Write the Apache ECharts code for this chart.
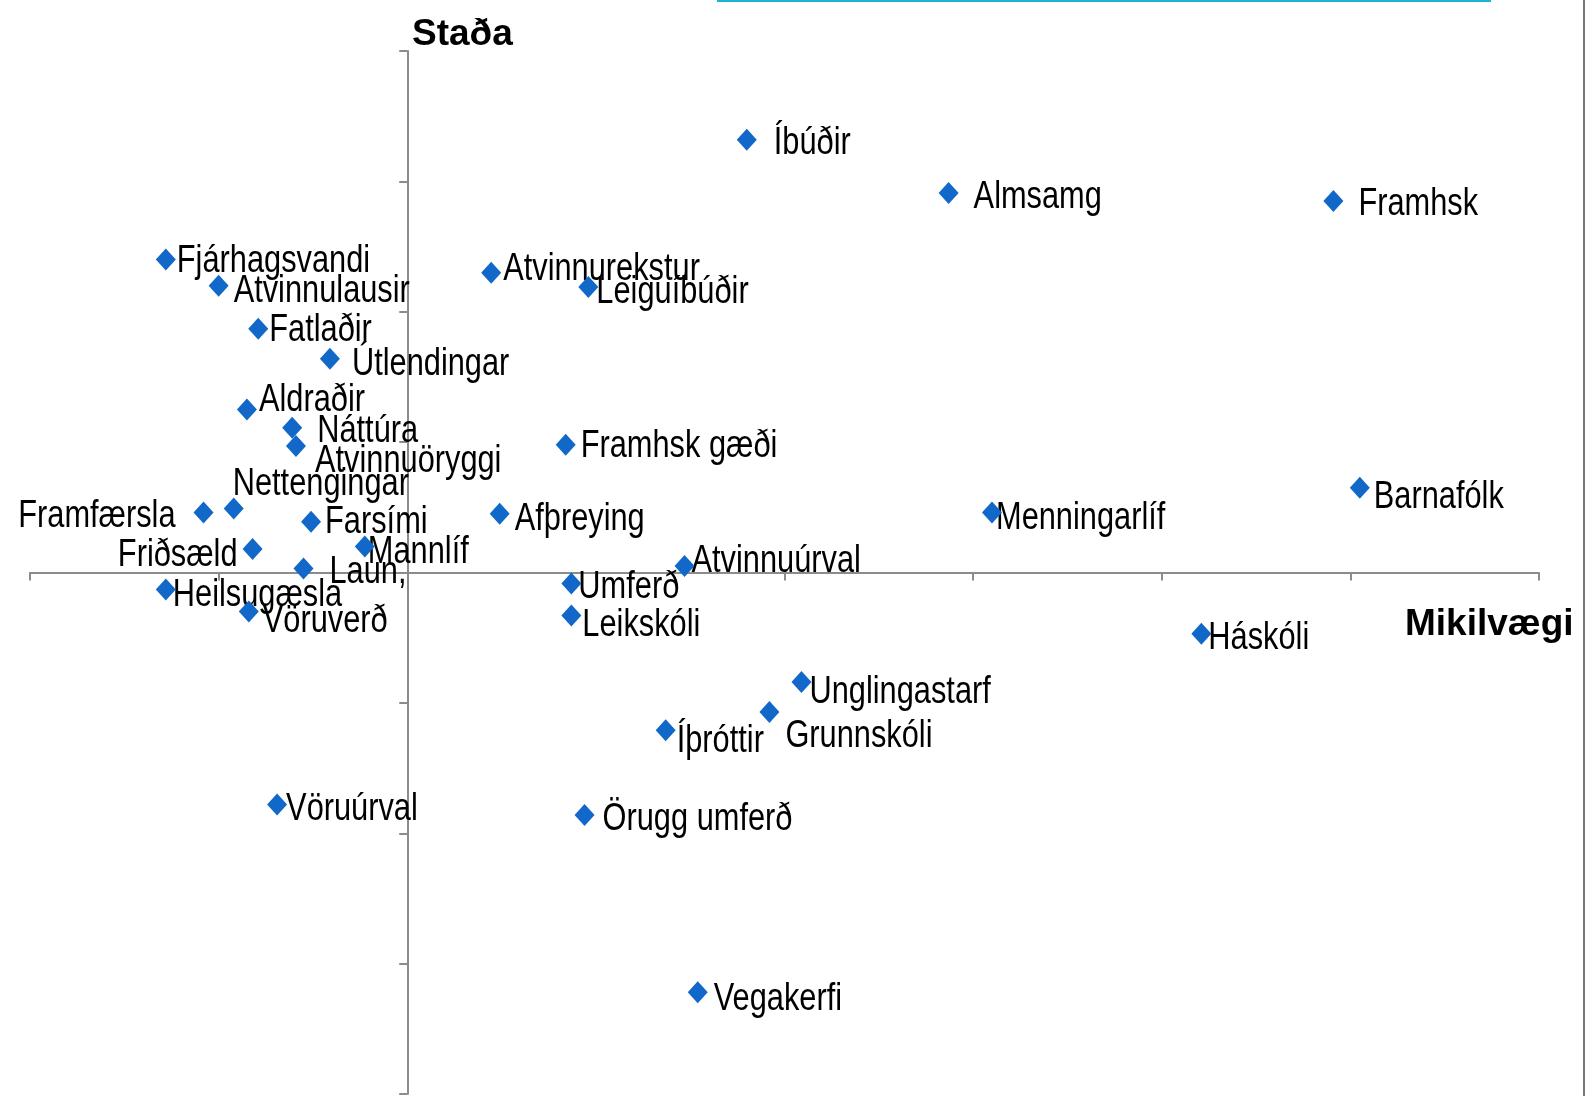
<!DOCTYPE html>
<html>
<head>
<meta charset="utf-8">
<script src="https://cdn.jsdelivr.net/npm/echarts@6/dist/echarts.min.js"></script>
<style>
  html, body { margin: 0; padding: 0; background: #fff; }
  #chart { width: 1585px; height: 1096px; }
</style>
</head>
<body>
<div id="chart"></div>
<script>
// gögnin: nafn, mikilvægi (x) og staða (y)
var names = ['Íbúðir', 'Almsamg', 'Framhsk', 'Fjárhagsvandi', 'Atvinnulausir', 'Atvinnurekstur',
  'Leiguíbúðir', 'Fatlaðir', 'Útlendingar', 'Aldraðir', 'Náttúra', 'Atvinnuöryggi',
  'Framhsk gæði', 'Nettengingar', 'Framfærsla', 'Farsími', 'Afþreying', 'Menningarlíf',
  'Barnafólk', 'Friðsæld', 'Mannlíf', 'Laun,', 'Atvinnuúrval', 'Umferð', 'Heilsugæsla',
  'Vöruverð', 'Leikskóli', 'Háskóli', 'Unglingastarf', 'Grunnskóli', 'Íþróttir',
  'Vöruúrval', 'Örugg umferð', 'Vegakerfi'];
var mikilvaegi = [1.80, 2.87, 4.91, -1.28, -1.00, 0.445,
  0.96, -0.79, -0.41, -0.85, -0.61, -0.59,
  0.84, -0.92, -1.08, -0.51, 0.49, 3.10,
  5.05, -0.82, -0.225, -0.55, 1.47, 0.87, -1.28,
  -0.84, 0.87, 4.21, 2.09, 1.92, 1.37,
  -0.69, 0.94, 1.54];
var stada = [3.32, 2.91, 2.85, 2.40, 2.20, 2.30,
  2.19, 1.87, 1.64, 1.25, 1.11, 0.97,
  0.98, 0.49, 0.46, 0.39, 0.45, 0.46,
  0.65, 0.18, 0.20, 0.03, 0.05, -0.085, -0.13,
  -0.30, -0.33, -0.47, -0.84, -1.07, -1.21,
  -1.78, -1.86, -3.22];

// hvar merkin lenda: [hlið, bil frá miðju tákns, lóðrétt hliðrun]
var labelLayout = {
  'Íbúðir': ['right', 27, 0], 'Almsamg': ['right', 25, 0], 'Framhsk': ['right', 25, 0],
  'Fjárhagsvandi': ['right', 11, -2], 'Atvinnulausir': ['right', 15, 2], 'Atvinnurekstur': ['right', 12, -7],
  'Leiguíbúðir': ['right', 8, 2], 'Fatlaðir': ['right', 11, -2], 'Útlendingar': ['right', 22, 2],
  'Aldraðir': ['right', 12, -13], 'Náttúra': ['right', 25, 0], 'Atvinnuöryggi': ['right', 19, 11],
  'Framhsk gæði': ['right', 15, -2], 'Nettengingar': ['right', -1, -28], 'Framfærsla': ['left', 28, 0],
  'Farsími': ['right', 14, -3], 'Afþreying': ['right', 15, 2], 'Menningarlíf': ['right', 4, 2],
  'Barnafólk': ['right', 14, 6], 'Friðsæld': ['left', 15, 2], 'Mannlíf': ['right', 3, 2],
  'Laun,': ['right', 26, 0], 'Atvinnuúrval': ['right', 7, -8], 'Umferð': ['right', 7, 0],
  'Heilsugæsla': ['right', 7, 2], 'Vöruverð': ['right', 14, 6], 'Leikskóli': ['right', 11, 6],
  'Háskóli': ['right', 7, 1], 'Unglingastarf': ['right', 8, 7], 'Grunnskóli': ['right', 16, 21],
  'Íþróttir': ['right', 11, 7], 'Vöruúrval': ['right', 9, 1], 'Örugg umferð': ['right', 18, 1],
  'Vegakerfi': ['right', 16, 3]
};

var points = [];
for (var i = 0; i < names.length; i++) {
  points.push([mikilvaegi[i], stada[i], i]);
}

// merkin teiknuð mjó (eins og Arial Narrow)
function renderLabel(params, api) {
  var pt = api.coord([api.value(0), api.value(1)]);
  var name = names[api.value(2)];
  var lay = labelLayout[name] || ['right', 10, 0];
  var isLeft = lay[0] === 'left';
  return {
    type: 'text',
    x: isLeft ? pt[0] - lay[1] : pt[0] + lay[1],
    y: pt[1] + lay[2] + 4,
    scaleX: 0.81,
    style: {
      text: name,
      font: '38px "Liberation Sans", Arial, sans-serif',
      fill: '#000',
      align: isLeft ? 'right' : 'left',
      verticalAlign: 'middle'
    }
  };
}

var axisColor = '#8c8c8c';
var myChart = echarts.init(document.getElementById('chart'));
var option = {
  animation: false,
  backgroundColor: '#ffffff',
  grid: { left: 30, right: 46, top: 51, bottom: 2 },
  xAxis: {
    type: 'value',
    min: -2, max: 6, interval: 1,
    axisLine: { onZero: true, lineStyle: { color: axisColor, width: 2 } },
    axisTick: { show: true, length: 8, lineStyle: { color: axisColor, width: 2 } },
    axisLabel: { show: false },
    splitLine: { show: false }
  },
  yAxis: {
    type: 'value',
    min: -4, max: 4, interval: 1,
    axisLine: { onZero: true, lineStyle: { color: axisColor, width: 2 } },
    axisTick: { show: true, length: 8, lineStyle: { color: axisColor, width: 2 } },
    axisLabel: { show: false },
    splitLine: { show: false }
  },
  series: [{
    type: 'custom',
    renderItem: renderLabel,
    data: points,
    z: 1,
    silent: true
  }, {
    type: 'scatter',
    symbol: 'diamond',
    symbolSize: [20, 22],
    itemStyle: { color: '#1268c9', opacity: 1 },
    data: points,
    z: 2
  }],
  graphic: [
    { type: 'text', left: 412, top: 16,
      style: { text: 'Staða', font: 'bold 37px "Liberation Sans", Arial, sans-serif', fill: '#000' } },
    { type: 'text', left: 1405, top: 606,
      style: { text: 'Mikilvægi', font: 'bold 37px "Liberation Sans", Arial, sans-serif', fill: '#000' } },
    { type: 'line', shape: { x1: 717, y1: 1, x2: 1491, y2: 1 },
      style: { stroke: '#1fb4d3', lineWidth: 2 } },
    { type: 'line', shape: { x1: 1584, y1: 0, x2: 1584, y2: 1096 },
      style: { stroke: '#4a4a4a', lineWidth: 1.5 } }
  ]
};
myChart.setOption(option);
</script>
</body>
</html>
